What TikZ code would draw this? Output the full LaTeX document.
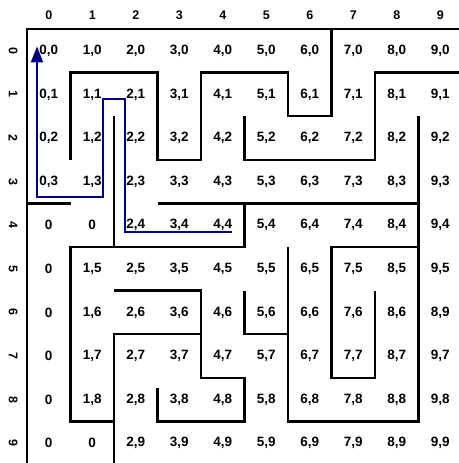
\documentclass[tikz,border=0pt]{standalone}
\usepackage{fontspec}
\setmainfont{Liberation Sans}
\usepackage{xcolor}
\definecolor{pathblue}{RGB}{0,0,128}
\usepackage{tikz}
\usetikzlibrary{arrows.meta,positioning,calc}

\tikzset{
    wall/.style={draw=black, line width=2.5pt},
    route/.style={draw=pathblue, line width=2.2pt, -{Triangle[length=16pt,width=12pt]}},
    cell/.style={font=\fontsize{13.5}{16}\selectfont\bfseries, inner sep=0pt},
    collabel/.style={font=\fontsize{12.5}{15}\selectfont\bfseries, inner sep=0pt},
    rowlabel/.style={font=\fontsize{12.5}{15}\selectfont\bfseries, inner sep=0pt, rotate=-90}
}

\begin{document}
\begin{tikzpicture}[x=43.5pt, y=-43.6pt]
        \useasboundingbox (-27pt,29pt) rectangle (431pt,-434pt);

        % labels round the grid
        \foreach \c in {0,...,9}
            \node[collabel] (col-\c) at (\c+0.5,-0.32) {\c};
        \foreach \r in {0,...,9}
            \node[rowlabel] (row-\r) at (-0.32,\r+0.5) {\r};

        % cell labels
        \foreach \c in {0,...,9}{
            \foreach \r in {0,...,9}{
                \pgfmathtruncatemacro{\zero}{(\c==0 && \r>3) || (\c==1 && (\r==4 || \r==9))}
                \ifnum\zero=1 \def\lbl{0}\else\def\lbl{\c,\r}\fi
                \ifnum\c=9 \ifnum\r=6 \def\lbl{8,9}\fi\fi
                \node[cell] (cell-\c-\r) at (\c+0.5,\r+0.5) {\lbl};
            }
        }

        % maze walls
        \draw[wall] (10,0) -- (0,0) -- (0,10);
        \draw[wall] (1,3) -- (1,1) -- (3,1) -- (3,3) -- (4,3) -- (4,1) -- (6,1) -- (6,2) -- (7,2) -- (7,0);
        \draw[wall] (0,4) -- (1,4);
        \draw[wall] (2,2) -- (2,5);
        \draw[wall] (2,9) -- (1,9) -- (1,5) -- (5,5) -- (5,4);
        \draw[wall] (3,4) -- (9,4);
        \draw[wall] (9,2) -- (9,9) -- (6,9) -- (6,5);
        \draw[wall] (10,1) -- (8,1) -- (8,3) -- (5,3) -- (5,2);
        \draw[wall] (2,10) -- (2,7) -- (4,7);
        \draw[wall] (2,6) -- (4,6) -- (4,8) -- (5,8) -- (5,9) -- (3,9) -- (3,8.23);
        \draw[wall] (5,6) -- (5,7) -- (6,7);
        \draw[wall] (9,5) -- (7,5) -- (7,8) -- (8,8) -- (8,6);

        % route back to the start
        \coordinate (p0) at (4.71,4.66);
        \coordinate (p1) at (2.25,4.66);
        \coordinate (p2) at (2.25,1.6);
        \coordinate (p3) at (1.75,1.6);
        \coordinate (p4) at (1.75,3.85);
        \coordinate (p5) at (0.23,3.85);
        \coordinate (goal) at (0.23,0.40);
        \draw[route] (p0) -- (p1) -- (p2) -- (p3) -- (p4) -- (p5) -- (goal);
    \end{tikzpicture}
\end{document}
